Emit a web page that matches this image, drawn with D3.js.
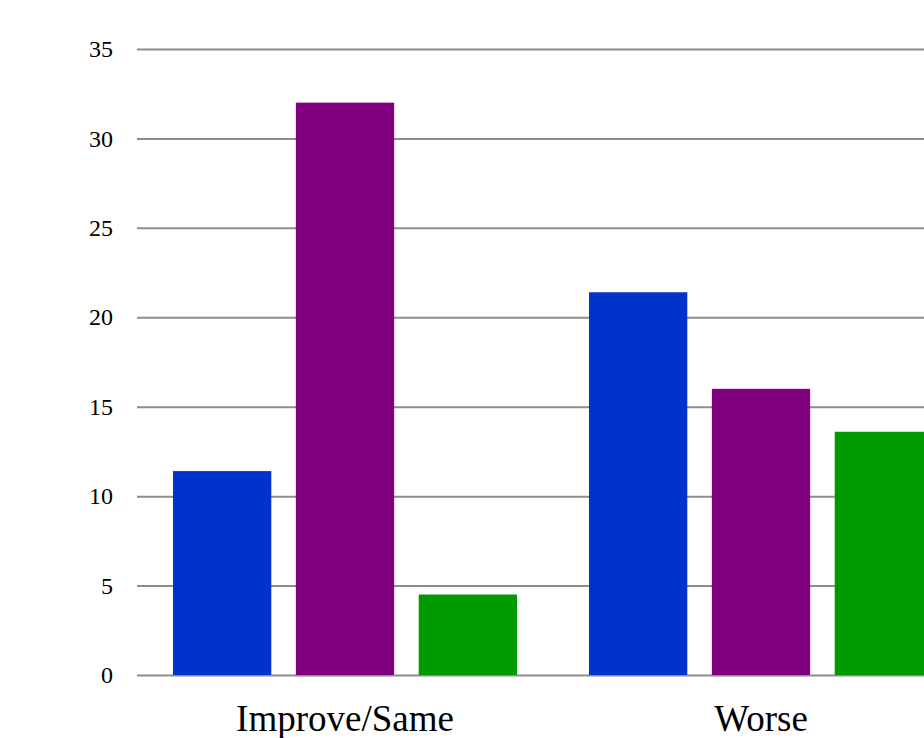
<!DOCTYPE html>
<html>
<head>
<meta charset="utf-8">
<script src="https://cdn.jsdelivr.net/npm/d3@7"></script>
<style>
  html, body { margin: 0; padding: 0; background: #fff; overflow: hidden; }
  svg { display: block; }
  text { font-family: "Liberation Serif", "Times New Roman", serif; fill: #000; }
</style>
</head>
<body>
<svg id="chart" width="924" height="738"></svg>
<script>
// Outcome groups along the x axis
const categories = ["Improve/Same", "Worse"];
// Three series per group (blue, purple, green)
const seriesNames = ["A", "B", "C"];
const seriesColors = ["#0033cc", "#800080", "#009900"];
const valuesA = [11.4, 21.4];
const valuesB = [32, 16];
const valuesC = [4.5, 13.6];
const yTicks = [0, 5, 10, 15, 20, 25, 30, 35];

const seriesValues = [valuesA, valuesB, valuesC];

const svg = d3.select("#chart");

const plotLeft = 137, plotRight = 969;
const plotTop = 49, plotBottom = 675;

const y = d3.scaleLinear().domain([0, 35]).range([plotBottom, plotTop]);

const x0 = d3.scaleBand().domain(categories).range([plotLeft, plotRight])
  .paddingInner(0).paddingOuter(0);

const groupPad = 36;
const x1 = d3.scaleBand().domain(seriesNames)
  .range([groupPad, x0.bandwidth() - groupPad])
  .paddingInner(0.2).paddingOuter(0);

// Horizontal gridlines with value labels
const yAxis = d3.axisLeft(y).tickValues(yTicks)
  .tickSize(-(plotRight - plotLeft)).tickPadding(24);

const gy = svg.append("g").attr("transform", `translate(${plotLeft},0)`).call(yAxis);
gy.select(".domain").remove();
gy.selectAll(".tick line").attr("stroke", "#8c8c8c").attr("stroke-width", 2);
gy.selectAll(".tick text")
  .style("font-family", '"Liberation Serif", "Times New Roman", serif')
  .style("font-size", "24px").attr("fill", "#000");

// Bars
const groups = svg.append("g").selectAll("g")
  .data(categories)
  .join("g")
  .attr("transform", d => `translate(${x0(d)},0)`);

groups.selectAll("rect")
  .data((cat, ci) => seriesNames.map((s, si) => ({ s, color: seriesColors[si], v: seriesValues[si][ci] })))
  .join("rect")
  .attr("x", d => x1(d.s))
  .attr("width", x1.bandwidth())
  .attr("y", d => y(d.v))
  .attr("height", d => y(0) - y(d.v))
  .attr("fill", d => d.color);

// Category labels
const xAxis = d3.axisBottom(x0).tickSize(0).tickPadding(30);
const gx = svg.append("g").attr("transform", `translate(0,${plotBottom})`).call(xAxis);
gx.select(".domain").remove();
gx.selectAll(".tick text")
  .style("font-family", '"Liberation Serif", "Times New Roman", serif')
  .style("font-size", "37px").attr("fill", "#000");
</script>
</body>
</html>
